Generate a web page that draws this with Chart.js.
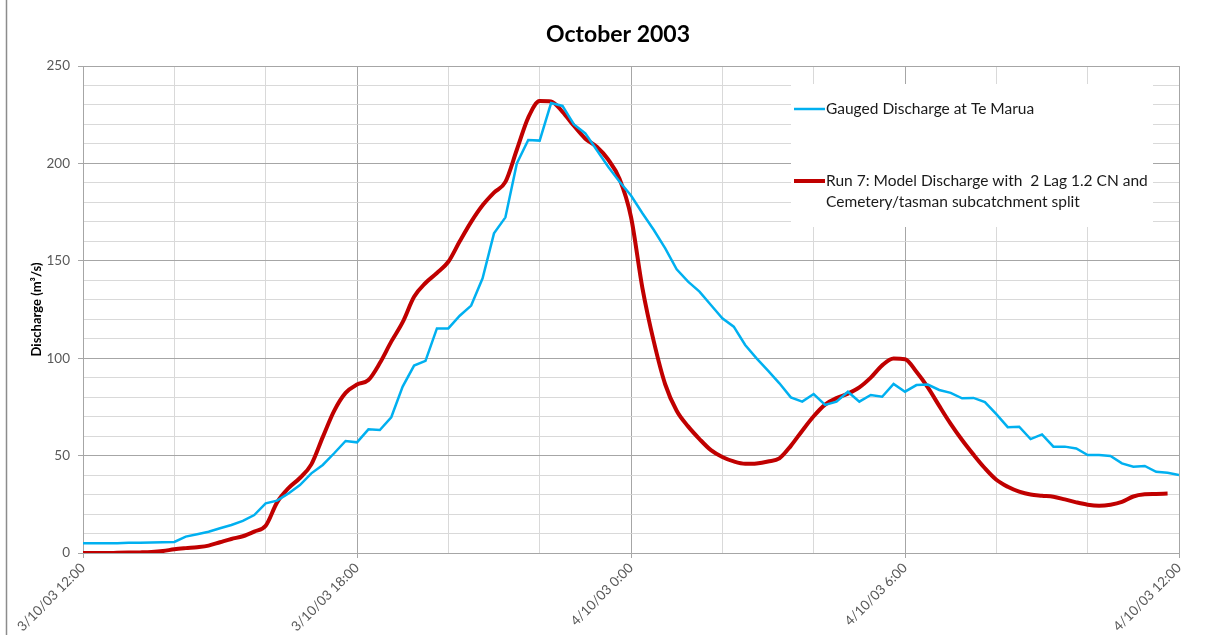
<!DOCTYPE html>
<html>
<head>
<meta charset="utf-8">
<script src="https://cdn.jsdelivr.net/npm/chart.js@4/dist/chart.umd.min.js"></script>
<style>
  html, body { margin: 0; padding: 0; background: #ffffff; }
  #wrap { width: 1223px; height: 635px; position: relative; }
</style>
</head>
<body>
<div id="wrap"><canvas id="c" width="1223" height="635"></canvas></div>
<script>
// ---- Data (15-minute samples from 3/10/03 12:00) ----
const chartTitle = 'October 2003';
const yAxisTitle = 'Discharge (m³/s)';
const xTickLabels = ['3/10/03 12:00', '3/10/03 18:00', '4/10/03 0:00', '4/10/03 6:00', '4/10/03 12:00'];
const sampleStepHours = 0.25;

const gaugedName = 'Gauged Discharge at Te Marua';
const gaugedValues = [
  5.0, 5.0, 5.0, 5.0, 5.2, 5.3, 5.4, 5.5, 5.7, 8.4,
  9.6, 10.9, 12.7, 14.4, 16.5, 19.5, 25.5, 26.9, 30.6, 34.9,
  40.9, 45.2, 51.2, 57.5, 56.8, 63.5, 63.1, 69.7, 85.4, 96.2,
  98.6, 115.3, 115.3, 121.8, 127.0, 141.0, 164.1, 172.3, 200.0, 212.0,
  211.7, 231.0, 229.5, 220.0, 215.4, 206.9, 198.3, 190.6, 183.5, 174.4,
  165.8, 156.4, 145.6, 139.3, 134.2, 127.3, 120.5, 116.2, 106.8, 99.9,
  93.6, 87.1, 79.9, 77.7, 81.6, 76.0, 77.7, 82.8, 77.7, 81.1,
  80.2, 86.8, 82.8, 86.2, 86.5, 83.7, 82.2, 79.4, 79.6, 77.5,
  71.3, 64.6, 64.8, 58.5, 60.9, 54.6, 54.6, 53.7, 50.3, 50.3,
  49.8, 46.0, 44.3, 44.7, 41.7, 41.2, 40.0
];

const modelNameLines = ['Run 7: Model Discharge with  2 Lag 1.2 CN and', 'Cemetery/tasman subcatchment split'];
const modelValues = [
  0.0, 0.0, 0.0, 0.1, 0.2, 0.3, 0.5, 1.0, 1.9, 2.5,
  3.0, 3.8, 5.5, 7.2, 8.6, 11.0, 14.0, 26.0, 33.3, 38.5,
  45.5, 59.5, 73.0, 82.2, 86.5, 88.8, 97.5, 108.5, 118.5, 131.5,
  138.6, 143.7, 149.5, 160.0, 170.0, 178.5, 185.0, 190.5, 207.0, 223.5,
  232.0, 231.8, 226.5, 219.3, 212.7, 208.5, 202.0, 192.0, 172.5, 136.0,
  108.5, 86.5, 73.0, 65.0, 58.5, 52.8, 49.3, 47.0, 45.8, 46.0,
  47.0, 48.6, 55.0, 62.8, 70.2, 76.2, 79.5, 81.8, 85.0, 90.0,
  96.3, 99.8, 99.5, 93.0, 85.0, 75.5, 66.3, 58.0, 50.5, 43.5,
  37.6, 34.0, 31.5, 30.0, 29.4, 28.9, 27.5, 26.0, 24.8, 24.3,
  24.8, 26.2, 29.0, 30.1, 30.3, 30.5
];

const toPoints = vals => vals.map((v, i) => ({ x: i * sampleStepHours, y: v }));

const FONT = 'Lato, "Open Sans", "Liberation Sans", sans-serif';
const MAJOR = '#A6A6A6';
const MINOR = '#D9D9D9';

const decorPlugin = {
  id: 'decor',
  beforeDraw(chart) {
    const ctx = chart.ctx;
    ctx.save();
    ctx.fillStyle = '#ffffff';
    ctx.fillRect(0, 0, chart.width, chart.height);
    // chart-area border (left edge)
    ctx.strokeStyle = '#8C8C8C';
    ctx.lineWidth = 1.5;
    ctx.beginPath();
    ctx.moveTo(6.5, 0);
    ctx.lineTo(6.5, chart.height);
    ctx.stroke();
    // title
    ctx.fillStyle = '#000000';
    ctx.font = 'bold 23px ' + FONT;
    ctx.textAlign = 'center';
    ctx.textBaseline = 'middle';
    ctx.fillText(chartTitle, 618, 35);
    ctx.restore();
  },
  beforeDatasetsDraw(chart) {
    const ctx = chart.ctx;
    ctx.save();
    // legend box
    ctx.fillStyle = '#ffffff';
    ctx.fillRect(791, 84, 362, 143);
    ctx.font = '15.5px ' + FONT;
    ctx.textAlign = 'left';
    ctx.textBaseline = 'middle';
    const ds = chart.data.datasets;
    const entries = [
      { y: 109, lines: [ds[0].label], color: ds[0].borderColor, w: ds[0].borderWidth },
      { y: 181, lines: modelNameLines, color: ds[1].borderColor, w: ds[1].borderWidth }
    ];
    entries.forEach(e => {
      ctx.strokeStyle = e.color;
      ctx.lineWidth = e.w;
      ctx.beginPath();
      ctx.moveTo(794, e.y);
      ctx.lineTo(825, e.y);
      ctx.stroke();
      ctx.fillStyle = '#1a1a1a';
      e.lines.forEach((t, k) => ctx.fillText(t, 826, e.y + k * 21));
    });
    ctx.restore();
  }
};

new Chart(document.getElementById('c'), {
  type: 'line',
  data: {
    datasets: [
      {
        label: gaugedName,
        data: toPoints(gaugedValues),
        borderColor: '#00B0F0',
        borderWidth: 2.5,
        pointRadius: 0,
        tension: 0,
        fill: false
      },
      {
        label: modelNameLines.join(' '),
        data: toPoints(modelValues),
        borderColor: '#C00000',
        borderWidth: 4,
        pointRadius: 0,
        cubicInterpolationMode: 'monotone',
        fill: false
      }
    ]
  },
  options: {
    responsive: false,
    animation: false,
    devicePixelRatio: 1,
    layout: { padding: { left: 8, right: 44, top: 66, bottom: 0 } },
    plugins: {
      legend: { display: false },
      title: { display: false },
      tooltip: { enabled: false }
    },
    scales: {
      x: {
        type: 'linear',
        min: 0,
        max: 24,
        afterFit(scale) { scale.height = 82; },
        border: { color: MAJOR, width: 1 },
        grid: {
          color: c => (c.tick && c.tick.value % 6 === 0) ? MAJOR : MINOR,
          tickColor: c => (c.tick && c.tick.value % 6 === 0) ? MAJOR : 'rgba(0,0,0,0)',
          tickLength: 5,
          lineWidth: 1
        },
        ticks: {
          stepSize: 2,
          autoSkip: false,
          maxRotation: 45,
          minRotation: 45,
          padding: 2,
          color: '#595959',
          font: { family: FONT, size: 13.5 },
          callback: v => (v % 6 === 0) ? xTickLabels[v / 6] : ''
        }
      },
      y: {
        min: 0,
        max: 250,
        afterFit(scale) { scale.width = 75; },
        border: { color: MAJOR, width: 1 },
        grid: {
          color: c => (c.tick && c.tick.value % 50 === 0) ? MAJOR : MINOR,
          tickColor: c => (c.tick && c.tick.value % 50 === 0) ? MAJOR : 'rgba(0,0,0,0)',
          tickLength: 5,
          lineWidth: 1
        },
        ticks: {
          stepSize: 10,
          autoSkip: false,
          padding: 8,
          color: '#595959',
          font: { family: FONT, size: 13.5 },
          callback: v => (v % 50 === 0) ? String(v) : ''
        },
        title: {
          display: true,
          text: yAxisTitle,
          color: '#000000',
          font: { family: FONT, size: 13, weight: 'bold' },
          padding: { top: 21, bottom: 0 }
        }
      }
    }
  },
  plugins: [decorPlugin]
});
</script>
</body>
</html>
